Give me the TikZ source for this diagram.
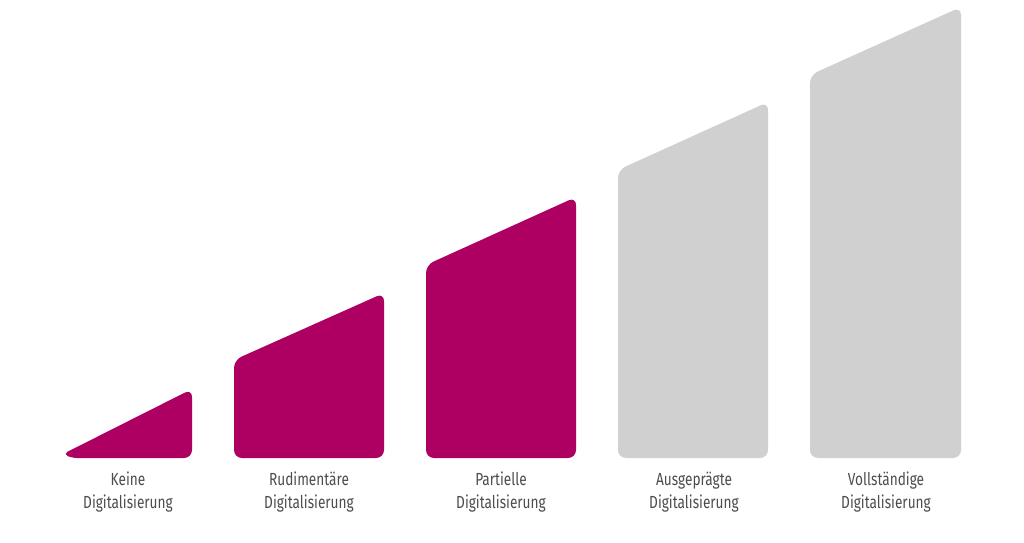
\documentclass[tikz,border=0pt]{standalone}
\usepackage{fontspec}
\setmainfont{Fira Sans}[FakeStretch=0.78]
\definecolor{magenta}{HTML}{AE0063}
\definecolor{lightgray}{HTML}{D0D0D0}
\definecolor{labelgray}{HTML}{4D4D4D}
\begin{document}
\begin{tikzpicture}[x=1pt,y=1pt,
  bar/.style={rounded corners=8pt},
  lbl/.style={align=center, text=labelgray, font=\fontsize{17.5}{23}\selectfont, anchor=center}]
\useasboundingbox (0,0) rectangle (1024,542);
\fill[white] (0,0) rectangle (1024,542);
% y_tikz = 542 - y_px ; bottom at 458 -> 84
\fill[magenta,rounded corners=8pt] (120,84) -- (192,84) -- (192,153)
  [rounded corners=5pt] -- (63,88) -- (72,84) -- cycle;
\fill[magenta,bar] (234,84) -- (234,182) -- (384,249) -- (384,84) -- cycle;
\fill[magenta,bar] (426,84) -- (426,277) -- (576,345) -- (576,84) -- cycle;
\fill[lightgray,bar] (618,84) -- (618,372) -- (768,440) -- (768,84) -- cycle;
\fill[lightgray,bar] (810,84) -- (810,467) -- (961,535) -- (961,84) -- cycle;
\node[lbl] (l1) at (128,50) {Keine\\Digitalisierung};
\node[lbl] (l2) at (309,50) {Rudimentäre\\Digitalisierung};
\node[lbl] (l3) at (501,50) {Partielle\\Digitalisierung};
\node[lbl] (l4) at (694,50) {Ausgeprägte\\Digitalisierung};
\node[lbl] (l5) at (886,50) {Vollständige\\Digitalisierung};
\end{tikzpicture}
\end{document}
